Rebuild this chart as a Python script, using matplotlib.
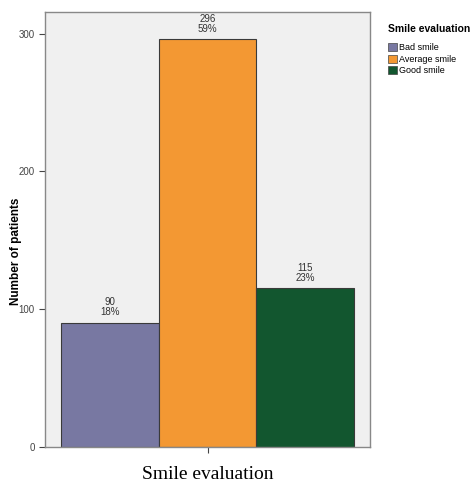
import matplotlib
matplotlib.use("Agg")
import matplotlib.pyplot as plt
from matplotlib.patches import Patch

plt.rcParams["font.family"] = ["Liberation Sans", "DejaVu Sans"]

categories = ["Bad smile", "Average smile", "Good smile"]
counts = [90, 296, 115]
percents = ["18%", "59%", "23%"]
colors = ["#7878a2", "#f39833", "#12562f"]

fig = plt.figure(figsize=(4.74, 4.91), dpi=100)
ax = fig.add_axes([0.095, 0.09, 0.686, 0.886])
ax.set_facecolor("#f0f0f0")

xs = list(range(len(counts)))
ax.bar(xs, counts, width=1.0, color=colors, edgecolor="#3a3a3a", linewidth=0.8)

# count and share printed above each bar
for x, c, p in zip(xs, counts, percents):
    ax.text(x, c + 4, f"{c}\n{p}", ha="center", va="bottom", fontsize=7,
            color="#333333", linespacing=1.0)

ax.set_xlim(-0.665, 2.665)
ax.set_ylim(0, 316)
ax.set_yticks([0, 100, 200, 300])
ax.tick_params(axis="y", labelsize=7, colors="#444444", length=4, width=0.8)
ax.set_xticks([1])
ax.set_xticklabels([""])
ax.tick_params(axis="x", length=4, width=0.8, colors="#444444")
for s in ax.spines.values():
    s.set_color("#888888")
    s.set_linewidth(1.0)

ax.set_ylabel("Number of patients", fontsize=8.5, fontweight="bold")
ax.yaxis.set_label_coords(-0.07, 0.45)
ax.set_xlabel("Smile evaluation", fontsize=14, family="Liberation Serif", labelpad=6)

handles = [Patch(facecolor=c, edgecolor="#444444", linewidth=0.5) for c in colors]
leg = fig.legend(handles, categories, loc="upper left", bbox_to_anchor=(0.805, 0.965),
                 title="Smile evaluation", fontsize=6.5, frameon=False,
                 handlelength=1.0, handleheight=1.0, handletextpad=0.2,
                 labelspacing=0.25, alignment="left", borderpad=0.2)
leg.get_title().set_fontsize(7.5)
leg.get_title().set_fontweight("bold")
leg._legend_box.sep = 7

fig.savefig("out.png", dpi=100)
